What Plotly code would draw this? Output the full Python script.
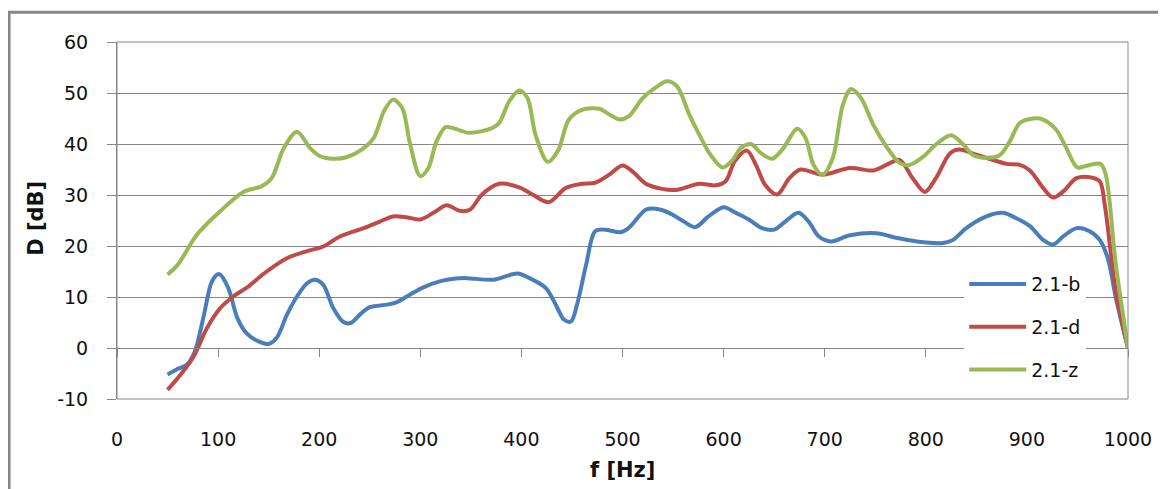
import plotly.graph_objects as go

# ---- data ----
f_b = [50,59,69,77,86,94,101,110,119,128,140,150,158,168,178,188,196,204,214,224,231,241,250,267,277,290,303,320,333,346,373,396,408,424,434,442,449,455,464,473,483,498,506,523,533,546,559,572,585,600,612,625,638,650,661,674,684,694,706,725,751,771,791,817,827,840,860,876,889,903,916,926,936,949,962,972,980,988,1000]
d_b = [-5.2,-4.2,-3.3,-0.7,6.5,13.1,14.5,11.8,5.9,2.9,1.3,0.8,2.0,6.5,10.1,12.7,13.4,12.4,7.8,5.1,4.9,6.7,8.0,8.5,9.0,10.5,11.9,13.1,13.6,13.7,13.4,14.6,13.7,11.8,8.5,5.6,5.2,8.5,16.3,22.9,23.2,22.7,23.5,27.1,27.3,26.5,25.0,23.7,25.8,27.6,26.5,25.2,23.5,23.2,24.8,26.5,24.8,21.9,20.9,22.1,22.5,21.6,20.9,20.6,21.2,23.5,25.8,26.5,25.5,23.9,21.2,20.3,21.9,23.5,22.9,21.2,17.6,9.8,0]

f_d = [50,63,76,89,102,115,128,148,168,188,204,221,244,260,273,287,300,313,326,339,349,361,378,398,411,427,444,460,473,487,500,510,523,539,553,566,576,592,602,611,623,632,641,653,665,676,698,725,748,761,774,787,799,810,824,833,850,866,880,893,903,916,926,936,949,962,972,977,988,1000]
d_d = [-8.2,-5.2,-1.6,3.9,7.8,10.1,11.8,15.0,17.6,19.0,19.9,21.9,23.5,24.8,25.8,25.6,25.2,26.5,28.0,26.9,27.1,30.1,32.2,31.5,30.1,28.6,31.4,32.2,32.4,34.0,35.8,34.6,32.2,31.2,31.0,31.7,32.2,31.9,32.7,36.6,38.7,35.9,32.0,30.1,33.3,35.0,34.0,35.3,34.8,35.9,36.9,33.3,30.6,33.3,38.2,38.9,37.9,36.9,36.1,35.9,34.8,31.4,29.5,30.7,33.3,33.5,32.7,28.1,11.1,0]

f_z = [50,60,79,102,125,143,153,165,178,191,201,214,227,242,254,264,273,282,290,300,308,316,325,333,348,371,378,388,398,406,414,426,436,447,460,477,487,497,506,520,533,544,554,566,576,587,599,609,617,627,637,648,658,673,681,689,698,708,718,726,736,748,761,774,784,798,810,825,837,847,860,873,883,893,906,916,929,939,950,962,973,978,988,1000]
d_z = [14.4,16.3,22.2,26.8,30.6,31.7,33.3,39.2,42.4,39.2,37.6,37.1,37.4,38.9,41.2,46.4,48.7,47.1,39.9,33.7,35.3,40.5,43.3,43.1,42.2,43.1,44.1,48.4,50.5,49.0,41.8,36.5,38.6,44.8,46.7,46.9,45.8,44.8,45.4,49.0,51.1,52.3,51.3,45.8,41.8,37.9,35.4,36.9,39.2,40.0,38.2,37.1,38.9,43.0,41.2,35.9,34.0,37.3,47.7,50.8,49.0,43.8,39.5,36.3,35.9,37.6,39.9,41.7,39.9,37.8,37.3,37.8,40.5,44.1,45.0,44.8,42.8,39.2,35.4,35.9,36.1,34.0,16.3,0]

series_names = ["2.1-b", "2.1-d", "2.1-z"]
series_colors = ["#4A7EBB", "#BE4B48", "#98B954"]
x_title = "f [Hz]"
y_title = "D [dB]"
y_tickvals = [-10, 0, 10, 20, 30, 40, 50, 60]
y_ticklabels = ["-10", "0", "10", "20", "30", "40", "50", "60"]

FONT = "DejaVu Sans"
GRID = "#868686"
TXT = "#111111"

fig = go.Figure()
for name, fx, dy, col in zip(series_names, [f_b, f_d, f_z], [d_b, d_d, d_z], series_colors):
    fig.add_trace(go.Scatter(
        x=fx, y=dy, name=name, mode="lines", legendgroup=name,
        line=dict(color=col, width=4, shape="spline", smoothing=0.9),
    ))

fig.update_layout(
    width=1158, height=481,
    margin=dict(l=109, r=38, t=34, b=90),
    paper_bgcolor="white", plot_bgcolor="white",
    font=dict(family=FONT, size=19, color=TXT),
    showlegend=True,
    legend=dict(
        x=0.838, xanchor="left", y=0.375, yanchor="top",
        bgcolor="white", borderwidth=0,
        font=dict(family=FONT, size=19, color=TXT),
        tracegroupgap=15, itemwidth=57,
    ),
    xaxis=dict(
        range=[0, 1000], dtick=100, tick0=0,
        showgrid=False, zeroline=False,
        anchor="free", position=1/7,
        showline=True, linecolor=GRID, linewidth=1,
        ticks="outside", ticklen=8, tickcolor=GRID, tickwidth=1,
        ticklabelstandoff=66,
        tickfont=dict(family=FONT, size=19, color=TXT),
    ),
    yaxis=dict(
        range=[-10, 60], tickvals=y_tickvals, ticktext=y_ticklabels,
        showgrid=True, gridcolor=GRID, gridwidth=1,
        zeroline=False,
        showline=True, linecolor=GRID, linewidth=1,
        ticks="outside", ticklen=9, tickcolor=GRID, tickwidth=1,
        ticklabelstandoff=15,
        tickfont=dict(family=FONT, size=19, color=TXT),
    ),
    shapes=[
        dict(type="rect", xref="paper", yref="paper", x0=0, x1=1, y0=0, y1=1,
             line=dict(color=GRID, width=1), layer="above"),
        dict(type="rect", xref="paper", yref="paper", x0=-0.1068, x1=1.2, y0=-0.4, y1=1.0833,
             line=dict(color="#878787", width=3), layer="below"),
    ],
    annotations=[
        dict(text="<b>" + x_title + "</b>", xref="paper", yref="paper",
             x=0.5, y=-0.2, xanchor="center", yanchor="middle", showarrow=False,
             font=dict(family=FONT, size=21, color=TXT)),
        dict(text="<b>" + y_title + "</b>", xref="paper", yref="paper",
             x=-0.08, y=0.505, xanchor="center", yanchor="middle", showarrow=False,
             textangle=-90, font=dict(family=FONT, size=21, color=TXT)),
    ],
)

fig.write_html("out.html")
